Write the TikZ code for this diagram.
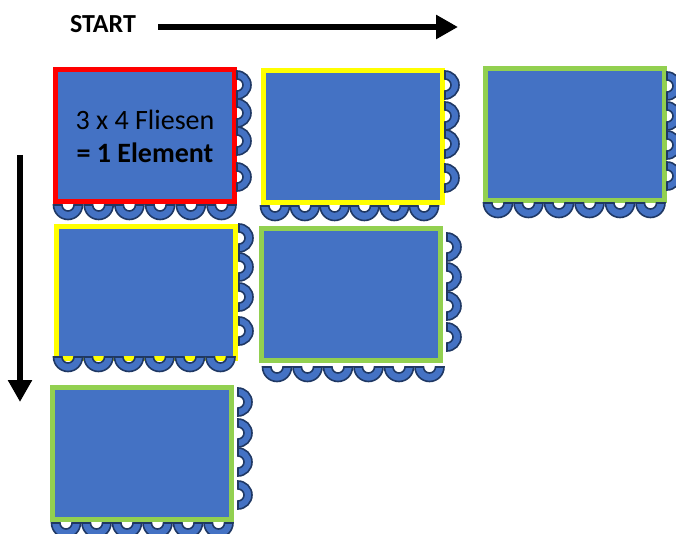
\documentclass[tikz,border=0pt]{standalone}
\usepackage{fontspec}
\setmainfont{Carlito}
\usepackage{tikz}
\usetikzlibrary{positioning,arrows.meta}
\definecolor{tileblue}{HTML}{4472C4}
\definecolor{ringnavy}{HTML}{1F3864}
\definecolor{tilered}{HTML}{FF0000}
\definecolor{tileyellow}{HTML}{FFFF00}
\definecolor{tilegreen}{HTML}{92D050}

% half rings: below / right of a point
\newcommand{\ringdown}[1]{%
  \path[ring] (#1) ++(14.5,0) arc[start angle=0, end angle=180, radius=14.5]
    -- ++(8.5,0) arc[start angle=180, end angle=0, radius=6] -- cycle;}
\newcommand{\ringright}[1]{%
  \path[ring] (#1) ++(0,-14) arc[start angle=-90, end angle=90, radius=14]
    -- ++(0,-8) arc[start angle=90, end angle=-90, radius=6] -- cycle;}

\begin{document}
\begin{tikzpicture}[
  x=1pt, y=-1pt,
  every node/.style={font=\fontsize{28}{33}\selectfont},
  tile/.style={rectangle, fill=tileblue, line width=5pt,
               minimum width=179pt, minimum height=132pt, inner sep=0pt, align=center},
  ring/.style={fill=tileblue, draw=ringnavy, line width=1.6pt},
  flow/.style={line width=6pt, -{Triangle[length=22pt, width=23pt]}}
]
  \useasboundingbox (0,0) rectangle (676,534);

  % tiles
  \node[tile, draw=tilered] (a) at (145,136) {3 x 4 Fliesen\\\textbf{= 1 Element}};
  \node[tile, draw=tileyellow] (b) at (352.5,136.5) {};
  \node[tile, draw=tilegreen] (c) at (574.5,134.5) {};
  \node[tile, draw=tileyellow] (d) at (145.5,292.5) {};
  \node[tile, draw=tilegreen] (e) at (350.5,294.5) {};
  \node[tile, draw=tilegreen] (f) at (141.5,453) {};

  % rings along the bottom edges
  \foreach \i in {0,...,5} {
    \ringdown{68+30.7*\i,205}
    \ringdown{275+29.8*\i,206}
    \ringdown{498+30.5*\i,203}
    \ringdown{68+30.5*\i,357}
    \ringdown{277+30.5*\i,367}
    \ringdown{66+30.5*\i,523}
  }
  % rings along the right edges
  \foreach \y in {85,113,141,177} \ringright{237,\y};
  \foreach \y in {85,116,144,178} \ringright{445,\y};
  \foreach \y in {86,116,145,176} \ringright{667,\y};
  \foreach \y in {238,267,297,331} \ringright{239,\y};
  \foreach \y in {247,277,306,337} \ringright{447,\y};
  \foreach \y in {402,433,462,495} \ringright{238,\y};

  % direction
  \node[font=\fontsize{26}{30}\selectfont\bfseries] (start) at (103,24) {START};
  \coordinate (h0) at (158,27);
  \coordinate (h1) at (458,27);
  \coordinate (v0) at (20,155);
  \coordinate (v1) at (20,402);
  \draw[flow] (h0) -- (h1);
  \draw[flow] (v0) -- (v1);
\end{tikzpicture}
\end{document}
